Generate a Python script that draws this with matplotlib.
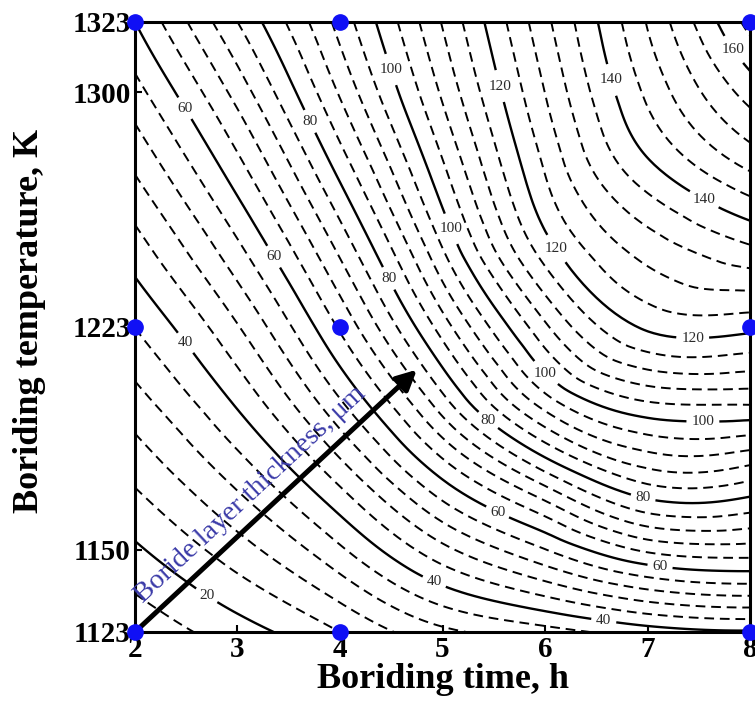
import numpy as np
import matplotlib
matplotlib.use("Agg")
import matplotlib.pyplot as plt
import matplotlib.tri as mtri

plt.rcParams.update({
    "font.family": ["Liberation Serif", "DejaVu Serif"],
    "mathtext.fontset": "custom",
    "mathtext.rm": "Liberation Serif",
    "lines.dashed_pattern": [5.0, 3.0],
})

# boride layer thickness (um)
times = [2, 3, 4, 5, 6, 7, 8]                                   # h
temps = [1123, 1148, 1173, 1198, 1223, 1248, 1273, 1298, 1323]  # K
thickness = [
    [13.0, 18.2, 24.0, 31.0, 34.4, 38.0, 39.5],
    [18.9, 25.7, 34.5, 45.7, 54.4, 62.9, 64.6],
    [24.6, 33.1, 45.0, 60.0, 73.8, 85.2, 84.3],
    [30.3, 40.6, 55.4, 74.3, 93.8, 103.6, 104.4],
    [36.1, 47.7, 64.6, 85.9, 107.2, 120.7, 121.2],
    [42.0, 54.9, 72.8, 95.7, 117.9, 129.5, 135.0],
    [48.0, 62.0, 80.8, 102.8, 124.0, 138.2, 147.5],
    [54.0, 69.0, 88.0, 108.3, 127.8, 144.5, 157.0],
    [60.0, 76.0, 93.5, 112.3, 130.9, 148.3, 165.5],
]

# experimental design points
exp_time = [2, 4, 8, 2, 4, 8, 2, 4, 8]
exp_temp = [1123, 1123, 1123, 1223, 1223, 1223, 1323, 1323, 1323]

solid_levels = [20, 40, 60, 80, 100, 120, 140, 160]
dashed_levels = [v for v in range(4, 172, 4) if v % 20 != 0]

label_pos = [
    (2.68, 1134),
    (2.5, 1218), (4.9, 1138), (6.57, 1126),
    (2.5, 1295), (3.35, 1246), (5.49, 1159), (7.12, 1144),
    (3.68, 1290), (4.42, 1238), (5.41, 1191), (6.95, 1166),
    (4.46, 1307), (5.07, 1255), (5.98, 1207), (7.54, 1191),
    (5.56, 1302), (6.08, 1248), (7.44, 1221),
    (6.65, 1304), (7.44, 1258),
    (7.8, 1313),
]

tt, TT = np.meshgrid(times, temps)
tri = mtri.Triangulation(tt.ravel().astype(float), TT.ravel().astype(float))
refiner = mtri.UniformTriRefiner(tri)
tri_f, z_f = refiner.refine_field(np.array(thickness).ravel(), subdiv=4)

fig = plt.figure(figsize=(7.55, 7.18), dpi=100)
ax = fig.add_axes([0.1788, 0.1198, 0.8146, 0.8496])

ax.tricontour(tri_f, z_f, levels=dashed_levels, colors="black",
              linewidths=1.4, linestyles="dashed")
cs = ax.tricontour(tri_f, z_f, levels=solid_levels, colors="black",
                   linewidths=1.7, linestyles="solid")
labels = ax.clabel(cs, manual=label_pos, fmt="%d", fontsize=11, inline=True,
                   inline_spacing=5, colors="#2a2a2a")
for lab in labels:
    lab.set_rotation(0)

# arrow with text
ax.annotate("", xy=(4.75, 1209), xytext=(2.0, 1123),
            arrowprops=dict(arrowstyle="-|>", lw=3.6, color="black",
                            mutation_scale=30, shrinkA=0, shrinkB=0),
            zorder=6)
ax.text(2.12, 1131, "Boride layer thickness, μm", rotation=43,
        rotation_mode="anchor", ha="left", va="bottom", fontsize=20.5,
        color="#3a3aa8", zorder=7)

ax.plot(exp_time, exp_temp, "o", color="#1010f5", ms=11, clip_on=False,
        zorder=10)

ax.set_xlim(2, 8)
ax.set_ylim(1123, 1323)
ax.set_xticks([2, 3, 4, 5, 6, 7, 8])
ax.set_yticks([1123, 1150, 1223, 1300, 1323])
ax.tick_params(direction="in", length=5, width=1.5, labelsize=21, pad=3)
for lab in ax.get_xticklabels() + ax.get_yticklabels():
    lab.set_fontweight("bold")
for s in ax.spines.values():
    s.set_linewidth(2.2)

ax.set_xlabel("Boriding time, h", fontsize=26, fontweight="bold", labelpad=0)
ax.set_ylabel("Boriding temperature, K", fontsize=26, fontweight="bold")
ax.yaxis.set_label_coords(-0.145, 0.51)

fig.savefig("out.png", dpi=100)
